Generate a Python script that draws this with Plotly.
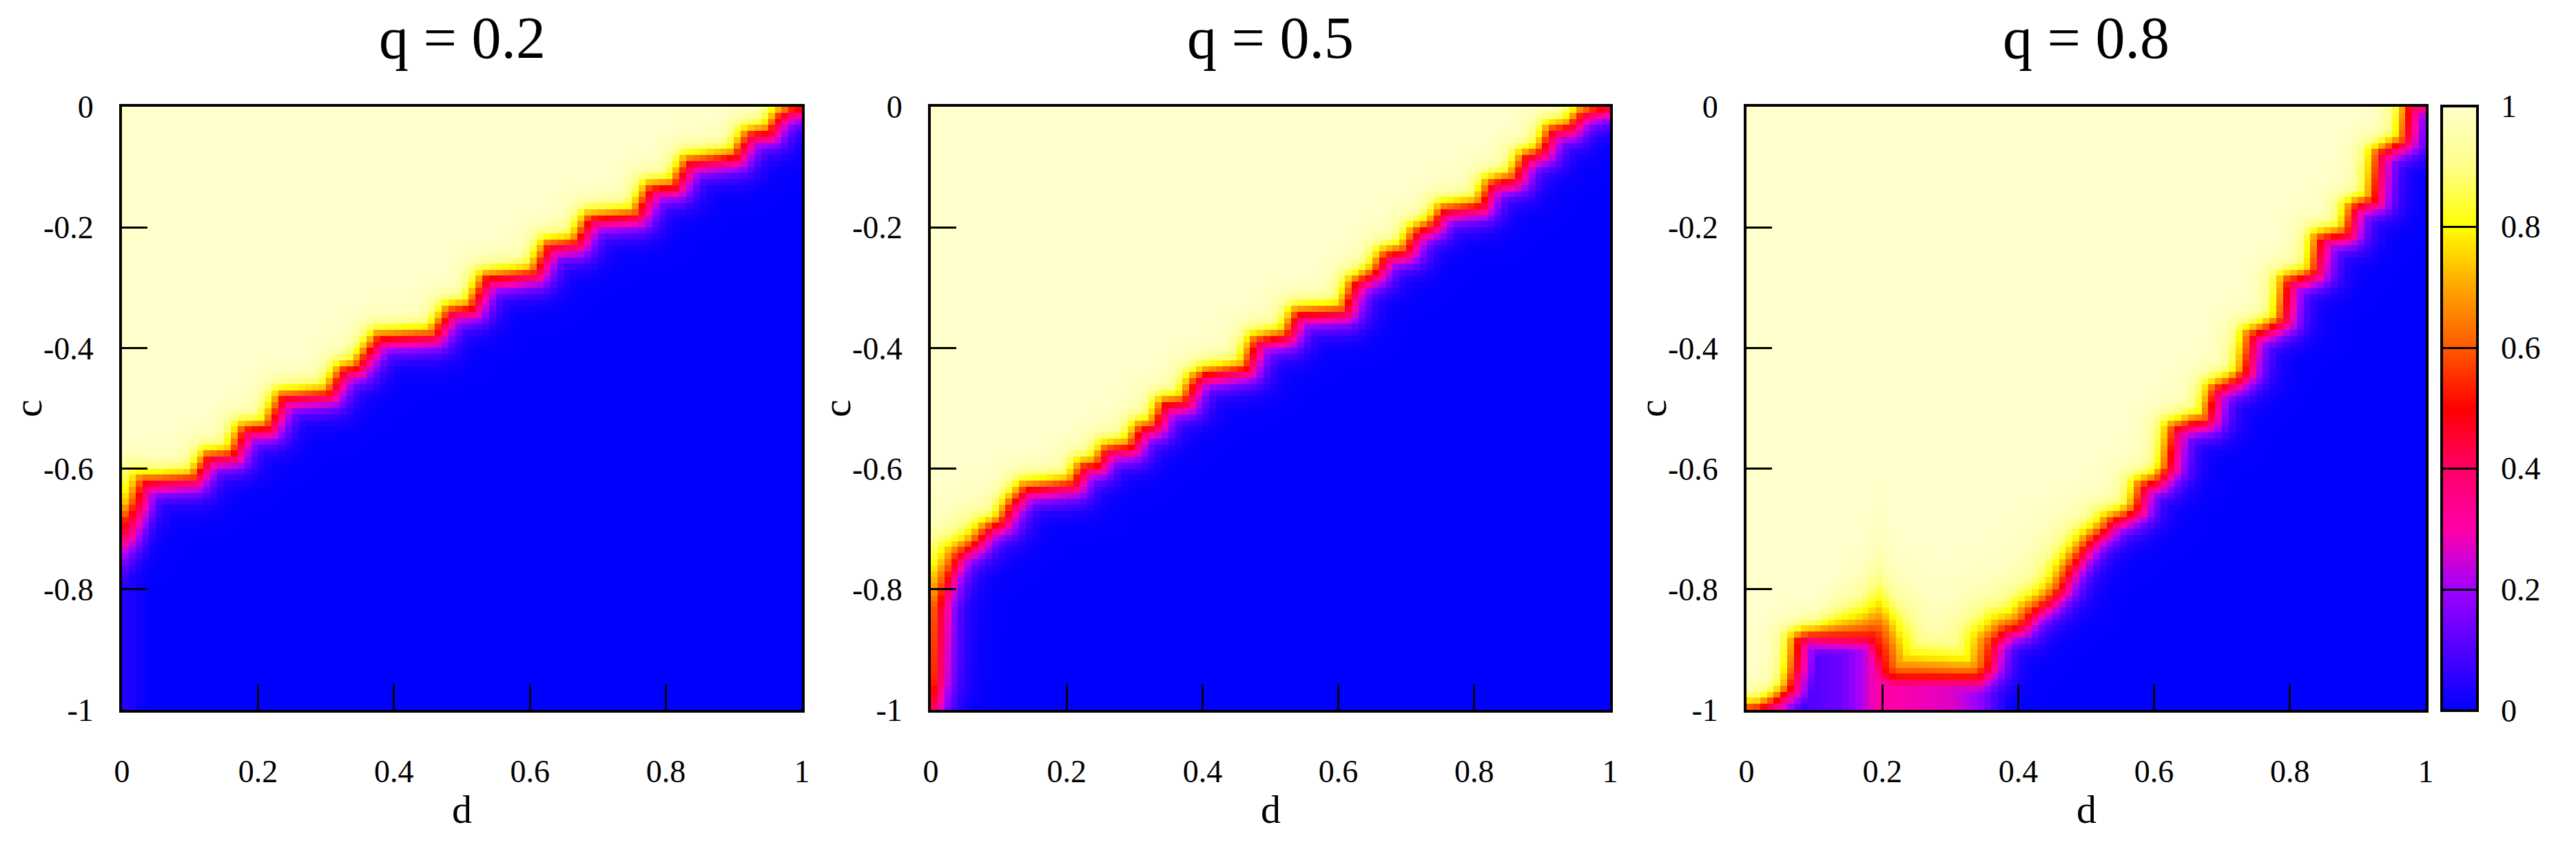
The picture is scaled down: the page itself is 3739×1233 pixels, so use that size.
import numpy as np
import plotly.graph_objects as go

W, H = 3739, 1233

# ---------------- data ----------------
TITLES = ["q = 0.2", "q = 0.5", "q = 0.8"]
X_TICKS = [0, 0.2, 0.4, 0.6, 0.8, 1]
X_TICKTEXT = ["0", "0.2", "0.4", "0.6", "0.8", "1"]
Y_TICKS = [-1, -0.8, -0.6, -0.4, -0.2, 0]
Y_TICKTEXT = ["-1", "-0.8", "-0.6", "-0.4", "-0.2", "0"]
CB_TICKS = [0, 0.2, 0.4, 0.6, 0.8, 1]
CB_TICKTEXT = ["0", "0.2", "0.4", "0.6", "0.8", "1"]

# boundary (value 0.5 contour) of each panel: d positions and c values
P1_D = [0.0, 0.005, 0.019, 0.031, 0.107, 0.128, 0.164, 0.180, 0.216, 0.237, 0.305, 0.326,
        0.346, 0.378, 0.459, 0.483, 0.515, 0.536, 0.608, 0.628, 0.669, 0.689, 0.758, 0.778,
        0.814, 0.834, 0.903, 0.923, 0.952, 0.968, 0.984, 1.0]
P1_C = [-0.70, -0.690, -0.663, -0.623, -0.618, -0.582, -0.578, -0.537, -0.533, -0.483, -0.477,
        -0.438, -0.434, -0.385, -0.380, -0.340, -0.335, -0.286, -0.277, -0.232, -0.227, -0.187,
        -0.181, -0.137, -0.133, -0.093, -0.084, -0.048, -0.043, -0.016, -0.007, -0.003]

P2_D = [0.0, 0.008, 0.012, 0.025, 0.04, 0.065, 0.085, 0.105, 0.12, 0.14, 0.21, 0.225, 0.245,
        0.26, 0.295, 0.31, 0.33, 0.345, 0.375, 0.39, 0.405, 0.465, 0.48, 0.525, 0.54, 0.61,
        0.625, 0.655, 0.67, 0.70, 0.715, 0.74, 0.755, 0.81, 0.825, 0.86, 0.875, 0.90, 0.915,
        0.94, 0.96, 0.985, 1.0]
P2_C = [-0.995, -0.95, -0.83, -0.78, -0.745, -0.725, -0.70, -0.69, -0.66, -0.635, -0.627,
        -0.598, -0.595, -0.57, -0.565, -0.535, -0.53, -0.495, -0.49, -0.455, -0.445, -0.435,
        -0.39, -0.38, -0.345, -0.34, -0.295, -0.275, -0.248, -0.24, -0.21, -0.196, -0.173,
        -0.165, -0.13, -0.12, -0.086, -0.075, -0.04, -0.035, -0.012, -0.004, 0.0]

P3_D = [0.0, 0.020, 0.045, 0.065, 0.072, 0.076, 0.09, 0.185, 0.195, 0.205, 0.22, 0.34, 0.355,
        0.362, 0.38, 0.405, 0.42, 0.445, 0.462, 0.475, 0.49, 0.507, 0.53, 0.535, 0.557, 0.575,
        0.583, 0.607, 0.622, 0.63, 0.657, 0.68, 0.69, 0.72, 0.735, 0.743, 0.766, 0.79, 0.797,
        0.816, 0.838, 0.845, 0.866, 0.886, 0.893, 0.90, 0.925, 0.931, 0.95, 0.97, 0.976, 1.0]
P3_C = [-1.0, -0.998, -0.985, -0.965, -0.93, -0.885, -0.878, -0.88, -0.90, -0.94, -0.947,
        -0.947, -0.93, -0.89, -0.87, -0.86, -0.84, -0.82, -0.80, -0.77, -0.745, -0.72, -0.70,
        -0.69, -0.68, -0.668, -0.63, -0.62, -0.60, -0.535, -0.525, -0.52, -0.47, -0.455, -0.44,
        -0.38, -0.37, -0.355, -0.29, -0.285, -0.275, -0.22, -0.215, -0.21, -0.17, -0.165,
        -0.155, -0.08, -0.068, -0.057, 0.0, 0.005]

# transition widths (above / below the boundary) and floor values of the low side
P1_WD = [0.0, 0.02, 0.05, 1.0]
P1_WA = [0.032, 0.028, 0.024, 0.024]
P1_WB = [0.07, 0.045, 0.03, 0.03]
P1_FD = [0.0, 0.02, 0.04, 1.0]
P1_FV = [0.05, 0.03, 0.0, 0.0]

P2_WD = [0.0, 0.03, 0.08, 1.0]
P2_WA = [0.04, 0.035, 0.025, 0.024]
P2_WB = [0.03, 0.03, 0.03, 0.03]
P2_FD = [0.0, 1.0]
P2_FV = [0.0, 0.0]

P3_WD = [0.0, 0.07, 0.1, 0.17, 0.195, 0.22, 0.3, 0.36, 0.45, 0.55, 1.0]
P3_WA = [0.024, 0.024, 0.024, 0.06, 0.09, 0.06, 0.05, 0.045, 0.035, 0.026, 0.024]
P3_WB = [0.03, 0.03, 0.03, 0.032, 0.035, 0.035, 0.035, 0.032, 0.03, 0.03, 0.03]
P3_FD = [0.075, 0.09, 0.14, 0.17, 0.19, 0.21, 0.3, 0.34, 0.37, 0.39]
P3_FV = [0.0, 0.1, 0.14, 0.22, 0.3, 0.3, 0.27, 0.2, 0.08, 0.0]

COLORSCALE = [[0.0, "#0000ff"], [0.1, "#5000ff"], [0.2, "#9f00ff"], [0.3, "#ff00a8"],
              [0.4, "#ff0066"], [0.5, "#ff0000"], [0.6, "#ff5a00"], [0.7, "#ffa500"],
              [0.8, "#ffff00"], [0.9, "#ffff88"], [1.0, "#ffffcc"]]

# ---------------- grid ----------------
D_CENTERS = np.round(np.arange(100) * 0.01 + 0.005, 3)
C_CENTERS = np.round(-1 + np.arange(100) * 0.01 + 0.005, 3)


def build_z(bd, bc, wd, wa, wb, fd, fv):
    bd = np.asarray(bd, float)
    bc = np.asarray(bc, float)
    Dg, Cg = np.meshgrid(D_CENTERS, C_CENTERS)
    P = np.stack([Dg.ravel(), Cg.ravel()], 1)
    A = np.stack([bd[:-1], bc[:-1]], 1)
    B = np.stack([bd[1:], bc[1:]], 1)
    AB = B - A
    AP = P[:, None, :] - A[None, :, :]
    t = np.clip((AP * AB[None]).sum(-1) / (AB ** 2).sum(-1)[None], 0, 1)
    closest = A[None] + t[..., None] * AB[None]
    dist = np.sqrt(((P[:, None, :] - closest) ** 2).sum(-1)).min(1)
    sign = np.where(P[:, 1] > np.interp(P[:, 0], bd, bc), 1.0, -1.0)
    s = sign * dist
    w = np.where(s > 0, np.interp(P[:, 0], wd, wa), np.interp(P[:, 0], wd, wb))
    z = 0.5 + 0.5 * np.tanh(s / w)
    floor = np.interp(P[:, 0], fd, fv, left=fv[0], right=fv[-1])
    z = np.where(s < 0, np.maximum(z, floor), z)
    return np.clip(z, 0, 1).reshape(Dg.shape)


panels = [
    (P1_D, P1_C, P1_WD, P1_WA, P1_WB, P1_FD, P1_FV),
    (P2_D, P2_C, P2_WD, P2_WA, P2_WB, P2_FD, P2_FV),
    (P3_D, P3_C, P3_WD, P3_WA, P3_WB, P3_FD, P3_FV),
]

# ---------------- layout geometry (pixels) ----------------
PLOT_X = [(177, 1164), (1351, 2337), (2535, 3521)]
PLOT_TOP, PLOT_BOTTOM = 155, 1031
CB_LEFT, CB_RIGHT, CB_TOP, CB_BOTTOM = 3544, 3596, 154, 1032


def px(x):
    return x / W


def py(y):
    return 1 - y / H


FONT = "Liberation Serif, Times New Roman, serif"

fig = go.Figure()
for i, p in enumerate(panels):
    z = build_z(*p)
    sfx = "" if i == 0 else str(i + 1)
    hm = dict(x=D_CENTERS, y=C_CENTERS, z=z, colorscale=COLORSCALE, zmin=0, zmax=1,
              xaxis="x" + sfx, yaxis="y" + sfx, showscale=(i == 2), hoverinfo="skip")
    if i == 2:
        hm["colorbar"] = dict(
            thickness=CB_RIGHT - CB_LEFT, thicknessmode="pixels",
            len=CB_BOTTOM - CB_TOP, lenmode="pixels",
            x=px(CB_LEFT), xanchor="left", y=py(CB_BOTTOM), yanchor="bottom",
            xpad=0, ypad=0, outlinewidth=4, outlinecolor="black",
            tickvals=[0.2, 0.4, 0.6, 0.8], ticks="inside", ticklen=CB_RIGHT - CB_LEFT,
            tickwidth=3, tickcolor="black", showticklabels=False,
        )
    fig.add_trace(go.Heatmap(**hm))

axis_common = dict(showline=True, linecolor="black", linewidth=4, mirror=True,
                   ticks="inside", ticklen=37, tickwidth=3, tickcolor="black",
                   showgrid=False, zeroline=False, automargin=False,
                   tickfont=dict(family=FONT, size=46, color="black"))

layout = dict(width=W, height=H, autosize=False,
              margin=dict(l=0, r=0, t=0, b=0, pad=0, autoexpand=False),
              paper_bgcolor="white", plot_bgcolor="white", showlegend=False)
annotations = []
for i, (x0, x1) in enumerate(PLOT_X):
    sfx = "" if i == 0 else str(i + 1)
    layout["xaxis" + sfx] = dict(axis_common, domain=[px(x0), px(x1)], range=[0, 1],
                                 anchor="y" + sfx, tickvals=X_TICKS, ticktext=X_TICKTEXT,
                                 ticklabelstandoff=46)
    layout["yaxis" + sfx] = dict(axis_common, domain=[py(PLOT_BOTTOM), py(PLOT_TOP)],
                                 range=[-1, 0], anchor="x" + sfx, tickvals=Y_TICKS,
                                 ticktext=Y_TICKTEXT, ticklabelstandoff=28)
    cx = (x0 + x1) / 2
    annotations.append(dict(text=TITLES[i], x=px(cx), y=py(55), xref="paper", yref="paper",
                            showarrow=False, xanchor="center", yanchor="middle",
                            font=dict(family=FONT, size=86, color="black")))
    annotations.append(dict(text="d", x=px(cx), y=py(1175), xref="paper", yref="paper",
                            showarrow=False, xanchor="center", yanchor="middle",
                            font=dict(family=FONT, size=58, color="black")))
    annotations.append(dict(text="c", x=px(x0 - 137), y=py((PLOT_TOP + PLOT_BOTTOM) / 2),
                            xref="paper", yref="paper", showarrow=False, textangle=-90,
                            xanchor="center", yanchor="middle",
                            font=dict(family=FONT, size=58, color="black")))

for v, t in zip(CB_TICKS, CB_TICKTEXT):
    ypix = CB_BOTTOM - v * (CB_BOTTOM - CB_TOP)
    annotations.append(dict(text=t, x=px(3628), y=py(ypix), xref="paper", yref="paper",
                            showarrow=False, xanchor="left", yanchor="middle",
                            font=dict(family=FONT, size=46, color="black")))

layout["annotations"] = annotations
fig.update_layout(**layout)
fig.write_html("out.html", config={"displayModeBar": False},
               post_script="document.body.style.margin='0';document.body.style.overflow='hidden';")
